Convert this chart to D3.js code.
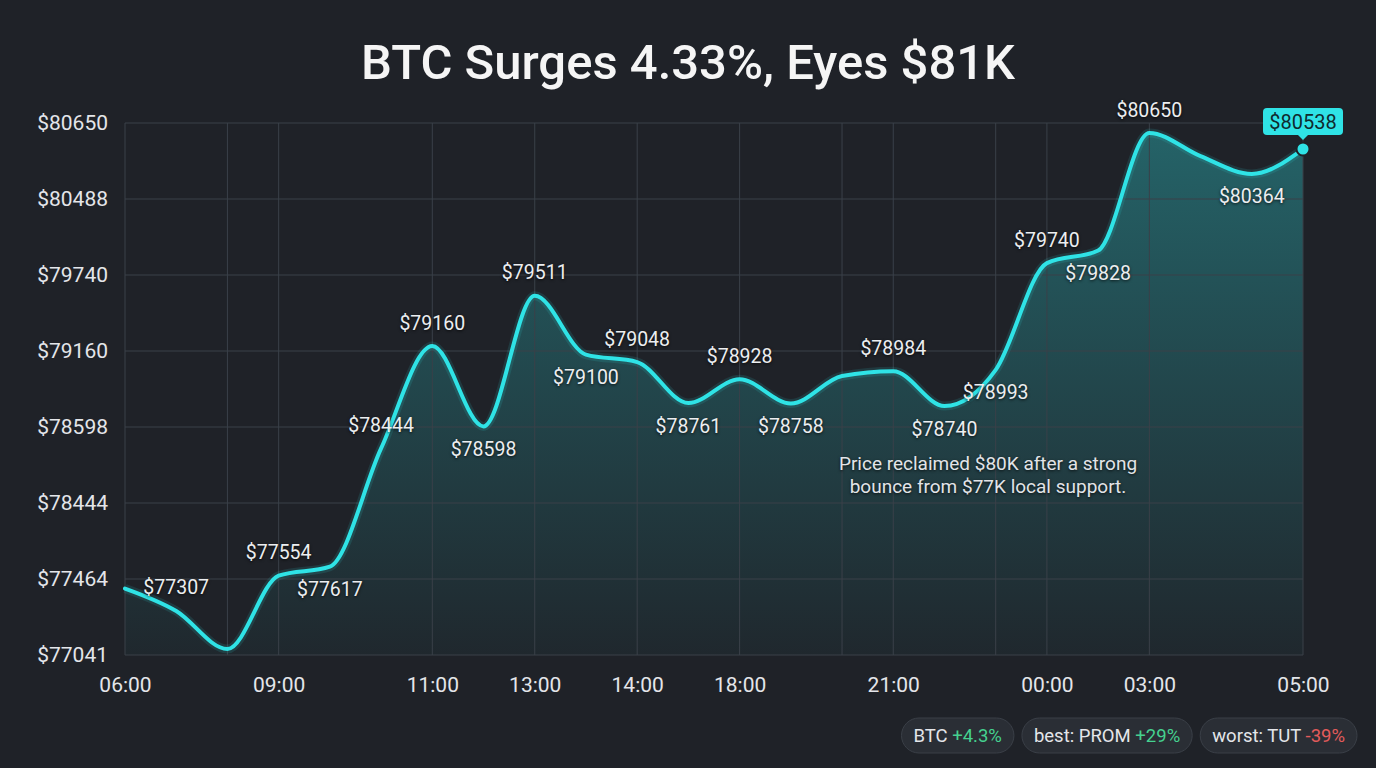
<!DOCTYPE html>
<html>
<head>
<meta charset="utf-8">
<script src="https://cdn.jsdelivr.net/npm/d3@7"></script>
<style>
  html, body { margin: 0; padding: 0; background: #1f2228; }
  svg { display: block; font-family: Roboto, "Noto Sans", sans-serif; }
  .lbl { text-shadow: 0 1px 3px rgba(0,0,0,0.75); }
</style>
</head>
<body>
<svg id="chart" width="1376" height="768"></svg>
<script>
// BTC price, one value per plotted step
const prices = [77464, 77307, 77041, 77554, 77617, 78444, 79160, 78598, 79511, 79100, 79048, 78761,
                78928, 78758, 78950, 78984, 78740, 78993, 79740, 79828, 80650, 80488, 80364, 80538];
const unlabeled = [0, 2, 14, 21];

// x axis ticks / grid (by point index)
const xTickIndex = [0, 3, 6, 8, 10, 12, 15, 18, 20, 23];
const xTickLabels = ["06:00", "09:00", "11:00", "13:00", "14:00", "18:00", "21:00", "00:00", "03:00", "05:00"];
const xGridIndex = [0, 2, 3, 6, 8, 10, 12, 14, 15, 17, 18, 20, 23];

// y axis labels, bottom to top
const yTickLabels = [77041, 77464, 78444, 78598, 79160, 79740, 80488, 80650];

// summary pills
const pillNames = ["BTC", "best: PROM", "worst: TUT"];
const pillValues = ["+4.3%", "+29%", "-39%"];

const titleText = "BTC Surges 4.33%, Eyes $81K";
const noteLines = ["Price reclaimed $80K after a strong", "bounce from $77K local support."];

const svg = d3.select("#chart");
const W = +svg.attr("width"), H = +svg.attr("height");
const pLeft = 125, pRight = 1303, pTop = 123, pBottom = 655;
const cyan = "#2fe3e6";

svg.append("rect").attr("width", W).attr("height", H).attr("fill", "#1f2228");

let x = d3.scalePoint().domain(d3.range(prices.length)).range([pLeft, pRight]);
let y = d3.scaleLinear().domain(d3.extent(prices)).range([pBottom - 6, pTop + 10]);
let yTick = d3.scalePoint().domain(yTickLabels).range([pBottom, pTop]);

// gradient for the area
const defs = svg.append("defs");
const grad = defs.append("linearGradient").attr("id", "fillGrad")
  .attr("gradientUnits", "userSpaceOnUse")
  .attr("x1", 0).attr("y1", pTop).attr("x2", 0).attr("y2", pBottom);
grad.append("stop").attr("offset", "0%").attr("stop-color", cyan).attr("stop-opacity", 0.34);
grad.append("stop").attr("offset", "100%").attr("stop-color", cyan).attr("stop-opacity", 0.03);

// Title
svg.append("text")
  .attr("x", W / 2).attr("y", 79)
  .attr("text-anchor", "middle")
  .attr("font-size", 49).attr("font-weight", 500)
  .attr("fill", "#f5f5f5")
  .text(titleText);

// area + line
let area = d3.area()
  .x((d, i) => x(i)).y0(pBottom).y1(d => y(d))
  .curve(d3.curveMonotoneX);
let line = d3.line()
  .x((d, i) => x(i)).y(d => y(d))
  .curve(d3.curveMonotoneX);

svg.append("path").datum(prices).attr("d", area).attr("fill", "url(#fillGrad)");

// Grid
const grid = svg.append("g").attr("stroke", "#3a4049").attr("stroke-width", 1);
grid.selectAll("line.h").data(yTickLabels).join("line").attr("class", "h")
  .attr("x1", pLeft).attr("x2", pRight)
  .attr("y1", d => yTick(d)).attr("y2", d => yTick(d));
grid.selectAll("line.v").data(xGridIndex).join("line").attr("class", "v")
  .attr("x1", d => x(d)).attr("x2", d => x(d))
  .attr("y1", pTop).attr("y2", pBottom);

// Axes
let yAxis = svg.append("g").attr("transform", `translate(${pLeft},0)`)
  .call(d3.axisLeft(yTick).tickSize(0).tickPadding(17).tickFormat(d => "$" + d));
let xAxis = svg.append("g").attr("transform", `translate(0,${pBottom})`)
  .call(d3.axisBottom(x).tickValues(xTickIndex).tickSize(0).tickPadding(22)
    .tickFormat(d => xTickLabels[xTickIndex.indexOf(d)]));
[yAxis, xAxis].forEach(a => {
  a.select(".domain").remove();
  a.selectAll("text").attr("font-size", 21).attr("fill", "#e4e6ea")
    .style("font-family", "Roboto, 'Noto Sans', sans-serif");
});

// line with soft glow
svg.append("path").datum(prices).attr("d", line)
  .attr("fill", "none").attr("stroke", cyan).attr("stroke-width", 9).attr("stroke-opacity", 0.12);
svg.append("path").datum(prices).attr("d", line)
  .attr("fill", "none").attr("stroke", cyan).attr("stroke-width", 4)
  .attr("stroke-linecap", "round").attr("stroke-linejoin", "round");

// point labels (above at local highs, below at local lows)
const last = prices.length - 1;
const labelPts = prices.map((v, i) => ({ v, i }))
  .filter(d => d.i > 0 && d.i < last && !unlabeled.includes(d.i));
svg.append("g").selectAll("text").data(labelPts).join("text")
  .attr("class", "lbl")
  .attr("x", d => x(d.i))
  .attr("y", d => {
    const side = d.v > (prices[d.i - 1] + prices[d.i + 1]) / 2 ? -1 : 1;
    return y(d.v) + side * 23;
  })
  .attr("text-anchor", "middle").attr("dominant-baseline", "central")
  .attr("font-size", 19.5).attr("fill", "#eceef0")
  .text(d => "$" + d.v);

// end marker + badge
const ex = x(last), ey = y(prices[last]);
svg.append("rect").attr("x", ex - 40).attr("y", ey - 41).attr("width", 80).attr("height", 27)
  .attr("rx", 4).attr("fill", cyan);
svg.append("path").attr("d", `M${ex - 6},${ey - 15}L${ex + 6},${ey - 15}L${ex},${ey - 9}Z`).attr("fill", cyan);
svg.append("text").attr("x", ex).attr("y", ey - 27.5)
  .attr("text-anchor", "middle").attr("dominant-baseline", "central")
  .attr("font-size", 20).attr("fill", "#0f2a2e")
  .text("$" + prices[last]);
svg.append("circle").attr("cx", ex).attr("cy", ey).attr("r", 6.5)
  .attr("fill", cyan).attr("stroke", "#1f2228").attr("stroke-width", 2);

// annotation
svg.append("text").attr("class", "lbl")
  .attr("x", 988).attr("y", 463)
  .attr("text-anchor", "middle").attr("font-size", 19).attr("fill", "#e2e4e8")
  .selectAll("tspan").data(noteLines).join("tspan")
  .attr("x", 988).attr("dy", (d, i) => i === 0 ? "0.35em" : "1.22em")
  .text(d => d);

// pills, right aligned
const pills = svg.append("g");
let xr = 1357;
for (let i = pillNames.length - 1; i >= 0; i--) {
  const g = pills.append("g");
  const t = g.append("text").attr("y", 736).attr("dominant-baseline", "central")
    .attr("font-size", 18.5).attr("fill", "#e4e6ea");
  t.append("tspan").text(pillNames[i] + " ");
  t.append("tspan").attr("fill", pillValues[i].startsWith("-") ? "#e25b5b" : "#45d18f").text(pillValues[i]);
  const tw = t.node().getComputedTextLength();
  const w = tw + 24;
  g.insert("rect", "text").attr("x", xr - w).attr("y", 718).attr("width", w).attr("height", 35)
    .attr("rx", 17.5).attr("fill", "#2a2e35").attr("stroke", "#3a3f47");
  t.attr("x", xr - w + 12);
  xr = xr - w - 8;
}
</script>
</body>
</html>
